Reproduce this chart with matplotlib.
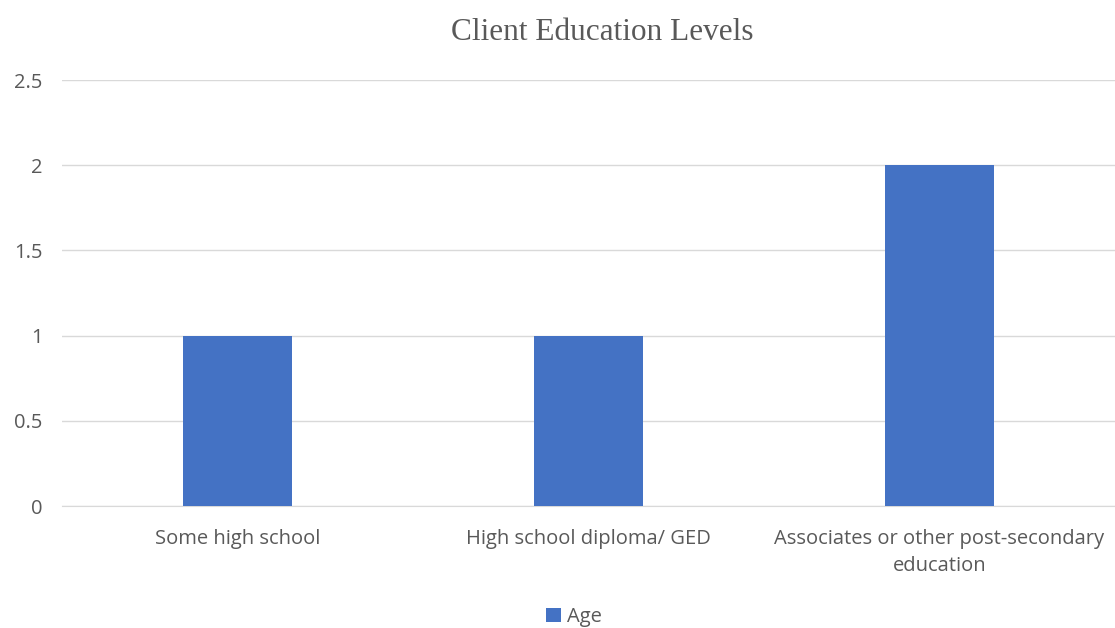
import matplotlib
matplotlib.use("Agg")
import matplotlib.pyplot as plt
import numpy as np

categories = ["Some high school", "High school diploma/ GED",
              "Associates or other post-secondary\neducation"]
values = [1, 1, 2]
series_name = "Age"
yticks = [0, 0.5, 1, 1.5, 2, 2.5]
ytick_labels = ["0", "0.5", "1", "1.5", "2", "2.5"]

grey = "#595959"
blue = "#4472C4"

fig = plt.figure(figsize=(11.15, 6.28), dpi=100)
ax = fig.add_axes([62 / 1115, 1 - 506 / 628, 1 - 62 / 1115, 426 / 628])

x = np.arange(len(categories))
ax.bar(x, values, width=0.313, color=blue, label=series_name, zorder=3)

ax.set_xlim(-0.5, len(categories) - 0.5)
ax.set_ylim(0, 2.5)
ax.set_yticks(yticks)
ax.set_yticklabels(ytick_labels)
ax.set_xticks(x)
ax.set_xticklabels(categories, linespacing=1.45)
ax.grid(axis="y", color="#D9D9D9", linewidth=1, zorder=0)
for s in ["top", "right", "left"]:
    ax.spines[s].set_visible(False)
ax.spines["bottom"].set_color("#D9D9D9")
ax.tick_params(axis="both", length=0, colors=grey, labelsize=14.5)
ax.tick_params(axis="y", pad=14)
ax.tick_params(axis="x", pad=16.5)
for lbl in ax.get_xticklabels() + ax.get_yticklabels():
    lbl.set_fontfamily("Open Sans")

fig.text(602 / 1115, 1 - 33 / 628, "Client Education Levels", ha="center", va="center",
         fontsize=22.5, color=grey, fontfamily="Liberation Serif")

leg = fig.legend(loc="center", bbox_to_anchor=(574 / 1115, 1 - 617 / 628), frameon=False,
                 handlelength=0.7, handleheight=0.7, handletextpad=0.3,
                 borderpad=0, prop={"family": "Open Sans", "size": 14.5})
for t in leg.get_texts():
    t.set_color(grey)

fig.savefig("out.png", dpi=100)
